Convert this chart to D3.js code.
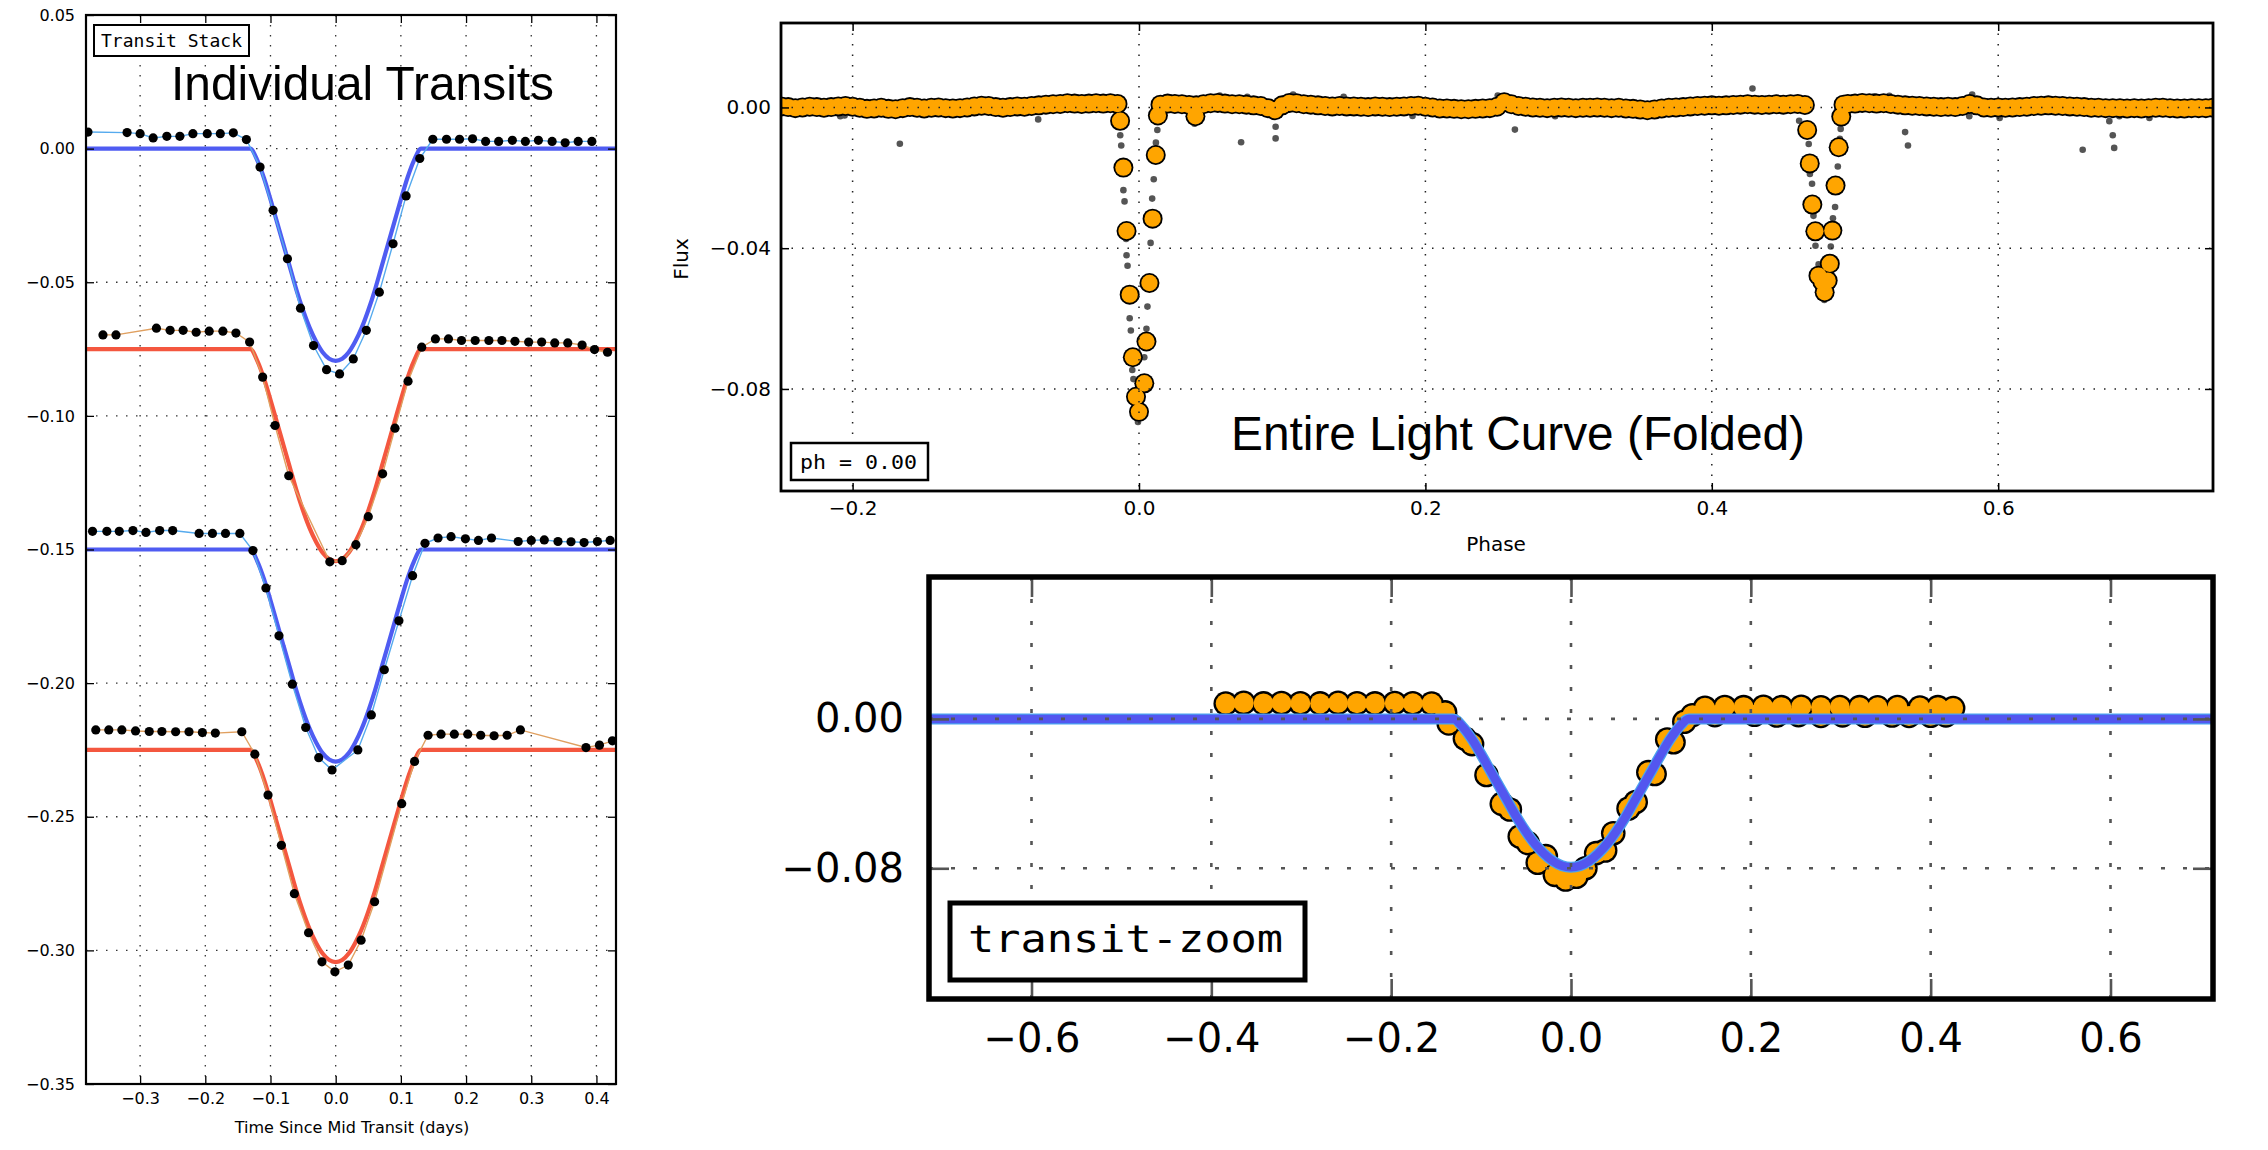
<!DOCTYPE html>
<html><head><meta charset="utf-8">
<script src="https://cdn.jsdelivr.net/npm/d3@7"></script>
<style>html,body{margin:0;padding:0;background:#fff;} svg{display:block;}</style>
</head><body>
<svg id="c" width="2268" height="1150"></svg>
<script>
// ---------------- DATA ----------------
// Panel 1: individual transits (time since mid transit [days], relative flux incl. stack offset)
const t1Time = [-0.380,-0.320,-0.300,-0.280,-0.259,-0.239,-0.219,-0.197,-0.177,-0.157,-0.137,-0.116,-0.096,-0.074,-0.054,-0.034,-0.014,0.006,0.027,0.047,0.067,0.088,0.108,0.129,0.149,0.170,0.190,0.210,0.230,0.250,0.271,0.291,0.311,0.332,0.352,0.372,0.393];
const t1Flux = [0.0062,0.0060,0.0056,0.0040,0.0046,0.0046,0.0056,0.0056,0.0056,0.0059,0.0034,-0.0069,-0.0231,-0.0412,-0.0597,-0.0737,-0.0827,-0.0843,-0.0787,-0.0680,-0.0537,-0.0356,-0.0177,-0.0037,0.0035,0.0035,0.0035,0.0037,0.0027,0.0027,0.0031,0.0027,0.0031,0.0027,0.0022,0.0027,0.0027];
const t2Time = [-0.357,-0.337,-0.275,-0.254,-0.234,-0.214,-0.194,-0.173,-0.153,-0.132,-0.112,-0.093,-0.072,-0.009,0.010,0.031,0.050,0.072,0.091,0.111,0.132,0.153,0.173,0.193,0.214,0.235,0.255,0.275,0.296,0.316,0.336,0.356,0.378,0.397,0.417];
const t2Flux = [-0.0697,-0.0697,-0.0672,-0.0680,-0.0680,-0.0687,-0.0683,-0.0683,-0.0690,-0.0724,-0.0855,-0.1036,-0.1224,-0.1546,-0.1542,-0.1482,-0.1377,-0.1217,-0.1046,-0.0870,-0.0743,-0.0712,-0.0712,-0.0718,-0.0718,-0.0718,-0.0718,-0.0721,-0.0724,-0.0724,-0.0727,-0.0727,-0.0735,-0.0752,-0.0762];
const t3Time = [-0.373,-0.351,-0.332,-0.311,-0.291,-0.270,-0.250,-0.2095,-0.189,-0.169,-0.147,-0.127,-0.107,-0.087,-0.0665,-0.046,-0.026,-0.0056,0.034,0.0547,0.0746,0.097,0.118,0.137,0.157,0.177,0.199,0.219,0.239,0.280,0.300,0.320,0.341,0.361,0.381,0.4015,0.421];
const t3Flux = [-0.1432,-0.1432,-0.1432,-0.1429,-0.1436,-0.1429,-0.1429,-0.1440,-0.1440,-0.1440,-0.1440,-0.1504,-0.1644,-0.1823,-0.2004,-0.2166,-0.2279,-0.2325,-0.2250,-0.2119,-0.1950,-0.1767,-0.1598,-0.1477,-0.1457,-0.1452,-0.1460,-0.1466,-0.1457,-0.1470,-0.1466,-0.1464,-0.1470,-0.1471,-0.1474,-0.1470,-0.1466];
const t4Time = [-0.368,-0.348,-0.328,-0.307,-0.286,-0.2666,-0.2455,-0.225,-0.2045,-0.1846,-0.144,-0.124,-0.1038,-0.0833,-0.0634,-0.0416,-0.0211,-0.0012,0.0193,0.039,0.0597,0.1013,0.121,0.1417,0.1616,0.182,0.2026,0.2225,0.243,0.263,0.2834,0.384,0.4046,0.4245];
const t4Flux = [-0.2175,-0.2175,-0.2175,-0.2179,-0.2181,-0.2181,-0.2182,-0.2182,-0.2185,-0.2187,-0.2182,-0.2266,-0.2419,-0.2607,-0.2788,-0.2934,-0.3043,-0.3080,-0.3055,-0.2962,-0.2818,-0.2451,-0.2293,-0.2195,-0.2191,-0.2191,-0.2191,-0.2195,-0.2197,-0.2195,-0.2175,-0.2241,-0.2232,-0.2216];
// Transit model (shared shape) and stack offsets of the four transits
const modelTime  = [-0.75,-0.131,-0.12,-0.11,-0.10,-0.09,-0.08,-0.07,-0.06,-0.05,-0.04,-0.03,-0.02,-0.01,0,0.01,0.02,0.03,0.04,0.05,0.06,0.07,0.08,0.09,0.10,0.11,0.12,0.131,0.75];
const modelDepth = [0,0,-0.0045,-0.011,-0.019,-0.0275,-0.036,-0.0445,-0.053,-0.0605,-0.067,-0.0722,-0.0762,-0.0786,-0.0794,-0.0786,-0.0762,-0.0722,-0.067,-0.0605,-0.053,-0.0445,-0.036,-0.0275,-0.019,-0.011,-0.0045,0,0];
const stackOffsets = [0,-0.075,-0.15,-0.225];
const p1XTicks = [-0.3,-0.2,-0.1,0.0,0.1,0.2,0.3,0.4];
const p1YTicks = [-0.35,-0.30,-0.25,-0.20,-0.15,-0.10,-0.05,0.00,0.05];

// Panel 2: folded light curve (phase, flux in units of 1e-3)
const bandPhase = [-0.250,-0.245,-0.240,-0.235,-0.230,-0.225,-0.220,-0.215,-0.210,-0.205,-0.200,-0.195,-0.190,-0.185,-0.180,-0.175,-0.170,-0.165,-0.160,-0.155,-0.150,-0.145,-0.140,-0.135,-0.130,-0.125,-0.120,-0.115,-0.110,-0.105,-0.100,-0.095,-0.090,-0.085,-0.080,-0.075,-0.070,-0.065,-0.060,-0.055,-0.050,-0.045,-0.040,-0.035,-0.030,-0.025,-0.020,-0.015,
0.015,0.020,0.025,0.030,0.035,0.040,0.045,0.050,0.055,0.060,0.065,0.070,0.075,0.080,0.085,0.090,0.095,0.100,0.105,0.110,0.115,0.120,0.125,0.130,0.135,0.140,0.145,0.150,0.155,0.160,0.165,0.170,0.175,0.180,0.185,0.190,0.195,0.200,0.205,0.210,0.215,0.220,0.225,0.230,0.235,0.240,0.245,0.250,0.255,0.260,0.265,0.270,0.275,0.280,0.285,0.290,0.295,0.300,0.305,0.310,0.315,0.320,0.325,0.330,0.335,0.340,0.345,0.350,0.355,0.360,0.365,0.370,0.375,0.380,0.385,0.390,0.395,0.400,0.405,0.410,0.415,0.420,0.425,0.430,0.435,0.440,0.445,0.450,0.455,0.460,0.465,
0.492,0.495,0.500,0.505,0.510,0.515,0.520,0.525,0.530,0.535,0.540,0.545,0.550,0.555,0.560,0.565,0.570,0.575,0.580,0.585,0.590,0.595,0.600,0.605,0.610,0.615,0.620,0.625,0.630,0.635,0.640,0.645,0.650,0.655,0.660,0.665,0.670,0.675,0.680,0.685,0.690,0.695,0.700,0.705,0.710,0.715,0.720,0.725,0.730,0.735,0.740,0.745,0.750];
const bandFluxMilli = [0.3,0.1,-0.2,0.0,0.2,0.1,-0.1,0.1,0.3,0.4,0.2,-0.1,-0.4,-0.3,-0.1,-0.4,-0.5,-0.2,0.1,-0.1,-0.3,-0.1,0.0,-0.2,-0.3,-0.2,0.0,0.3,0.5,0.4,0.1,-0.1,0.1,0.3,0.2,0.4,0.6,0.8,0.9,1.0,1.2,1.1,1.0,1.1,1.2,1.1,1.2,1.0,
0.8,1.1,1.0,0.9,0.7,0.6,0.9,1.2,1.3,1.1,0.9,0.9,0.8,0.6,0.4,-0.2,-0.8,0.6,1.3,1.2,0.9,0.8,0.6,0.4,0.3,0.4,0.3,0.3,0.2,0.1,0.3,0.2,0.1,0.2,0.3,0.4,0.5,0.2,0.0,-0.3,-0.3,-0.4,-0.5,-0.5,-0.4,-0.3,-0.2,0.2,1.5,0.9,0.4,0.2,0.0,-0.1,-0.2,-0.1,0.0,-0.1,-0.2,-0.1,-0.1,0.0,-0.1,-0.2,-0.1,-0.3,-0.4,-0.6,-0.8,-0.6,-0.3,-0.1,0.0,0.1,0.3,0.4,0.5,0.6,0.5,0.6,0.7,0.8,0.9,0.8,0.7,0.8,0.9,0.8,0.9,1.0,0.7,
0.8,1.0,1.1,1.3,1.2,1.1,1.2,1.0,0.8,0.6,0.5,0.4,0.3,0.2,0.1,0.2,0.1,0.4,1.0,0.6,0.0,-0.1,0.0,-0.1,0.0,0.1,0.2,0.4,0.5,0.6,0.5,0.4,0.3,0.2,0.1,-0.1,-0.1,-0.2,-0.2,-0.2,-0.3,-0.2,-0.3,-0.2,-0.1,-0.1,-0.2,-0.3,-0.3,-0.2,-0.2,-0.2,-0.1];
const eclPhase = [-0.0132,-0.0109,-0.0087,-0.0065,-0.0043,-0.0021,0.0,0.0037,0.0052,0.0073,0.0095,0.0117,0.0132,0.0394,
0.4666,0.4684,0.4702,0.4723,0.4745,0.4772,0.4788,0.4809,0.4824,0.4842,0.4864,0.4886,0.4904];
const eclFluxMilli = [-3.8,-17.1,-35.1,-53.2,-71.0,-82.2,-86.5,-78.4,-66.5,-49.9,-31.6,-13.5,-2.3,-2.5,
-6.4,-15.9,-27.6,-35.2,-47.8,-49.5,-52.5,-49.2,-44.4,-35.0,-22.2,-11.3,-2.6];
const rawPhase = [-0.2086,-0.2056,-0.167,-0.0704,0.0388,0.0713,0.0954,0.0954,0.2625,0.4284,0.535,0.537,0.659,0.6776,0.68,0.681,
0.0564,0.0756,0.1076,0.1429,0.2505,0.5135,0.524,0.5818,0.2906,0.5798,0.601,0.7056,0.6846,0.191,
-0.0131,-0.0124,-0.0109,-0.0101,-0.009,-0.0087,-0.008,-0.0065,-0.0057,-0.0047,-0.0039,-0.0021,-0.0007,0.0037,0.0052,0.0059,0.0081,0.0092,0.0103,0.0118,0.0128,
0.461,0.4677,0.4685,0.47,0.471,0.4724,0.4746,0.4786,0.481,0.4831,0.4846,0.4861,0.4868,0.488,0.4894,0.49];
const rawFluxMilli = [-2.5,-2.3,-10.3,-3.4,-4.6,-9.9,-5.5,-8.8,-6.3,5.4,-7.0,-10.8,-12.0,-3.9,-7.9,-11.5,
3.4,3.0,3.7,3.0,3.4,3.2,3.3,3.7,-2.5,-2.5,-3.0,-3.0,-2.5,-2.4,
-7.9,-10.8,-23.5,-26.7,-37.4,-42.0,-45.0,-59.9,-63.4,-74.6,-77.2,-84.8,-89.4,-71.0,-62.9,-56.6,-38.5,-25.9,-20.4,-10.0,-6.4,
-3.8,-10.4,-18.9,-21.7,-30.8,-39.3,-44.6,-54.7,-46.6,-39.5,-31.5,-28.3,-20.6,-16.8,-8.9,-6.1];
const p2XTicks = [-0.2,0.0,0.2,0.4,0.6];
const p2YTicks = [-0.08,-0.04,0.00];

// Panel 3: transit zoom (time, flux in units of 1e-3)
const zoomTime = [-0.384,-0.364,-0.342,-0.322,-0.301,-0.279,-0.259,-0.238,-0.218,-0.196,-0.176,-0.155,-0.140,
-0.136,-0.118,-0.110,-0.094,-0.077,-0.068,-0.057,-0.048,-0.037,-0.028,-0.018,-0.006,0.006,0.016,0.028,0.038,0.047,0.064,0.072,0.086,0.093,0.107,0.114,0.126,0.135,
0.149,0.171,0.192,0.214,0.234,0.256,0.278,0.299,0.321,0.341,0.363,0.388,0.408,0.425,
0.160,0.204,0.229,0.253,0.278,0.302,0.327,0.357,0.376,0.400,0.417];
const zoomFluxMilli = [8.2,8.6,8.3,8.5,8.4,8.3,8.6,8.4,8.3,8.5,8.4,8.2,3.5,
-2.4,-10.5,-13.5,-30.0,-45.5,-48.5,-63.0,-66.5,-77.0,-73.5,-83.5,-86.0,-84.5,-80.0,-71.9,-70.5,-61.2,-48.0,-44.5,-28.5,-29.5,-11.0,-12.5,-1.5,2.0,
6.0,6.4,6.3,6.5,6.3,6.5,6.2,6.4,6.3,6.2,6.4,6.1,6.3,5.8,
2.0,2.2,1.8,2.0,1.6,1.9,1.7,1.8,1.6,1.7,1.9];
const p3XTicks = [-0.6,-0.4,-0.2,0.0,0.2,0.4,0.6];
const p3YTicks = [-0.08,0.00];

// ---------------- DRAWING ----------------
const svg = d3.select('#c');
const defs = svg.append('defs');
const SANS = "'DejaVu Sans', 'Bitstream Vera Sans', sans-serif";
const MONO = "'DejaVu Sans Mono', 'Liberation Mono', monospace";
const NARROW = "'Liberation Sans Narrow', 'Liberation Sans', Arial, sans-serif";

function clipFor(id, b) {
  defs.append('clipPath').attr('id', id).append('rect')
    .attr('x', b.left).attr('y', b.top).attr('width', b.right - b.left).attr('height', b.bottom - b.top);
  return `url(#${id})`;
}

function drawGrid(g, xs, ys, b, xt, yt, st) {
  const gg = g.append('g');
  gg.selectAll('line.gv').data(xt).join('line').attr('class','gv')
    .attr('x1', d => xs(d)).attr('x2', d => xs(d)).attr('y1', b.top).attr('y2', b.bottom);
  gg.selectAll('line.gh').data(yt).join('line').attr('class','gh')
    .attr('x1', b.left).attr('x2', b.right).attr('y1', d => ys(d)).attr('y2', d => ys(d));
  gg.selectAll('line').attr('stroke', st.color).attr('stroke-width', st.width)
    .attr('stroke-dasharray', st.dash).attr('fill','none');
}

function drawAxes(g, xs, ys, b, xt, yt, o) {
  const fmtX = d3.format(o.xfmt), fmtY = d3.format(o.yfmt);
  const ax = [
    g.append('g').attr('transform', `translate(0,${b.bottom})`)
      .call(d3.axisBottom(xs).tickValues(xt).tickSize(-o.tick).tickPadding(o.xpad).tickFormat(fmtX)),
    g.append('g').attr('transform', `translate(0,${b.top})`)
      .call(d3.axisTop(xs).tickValues(xt).tickSize(-o.tick).tickFormat('')),
    g.append('g').attr('transform', `translate(${b.left},0)`)
      .call(d3.axisLeft(ys).tickValues(yt).tickSize(-o.tick).tickPadding(o.ypad).tickFormat(fmtY)),
    g.append('g').attr('transform', `translate(${b.right},0)`)
      .call(d3.axisRight(ys).tickValues(yt).tickSize(-o.tick).tickFormat(''))
  ];
  ax.forEach(a => {
    a.select('.domain').remove();
    a.selectAll('line').attr('stroke', o.tickColor).attr('stroke-width', o.tickWidth);
    a.attr('font-size', o.font).attr('font-family', SANS);
    a.selectAll('text').attr('fill', '#000');
  });
  g.append('rect').attr('x', b.left).attr('y', b.top)
    .attr('width', b.right - b.left).attr('height', b.bottom - b.top)
    .attr('fill', 'none').attr('stroke', '#000').attr('stroke-width', o.border);
}

// ---- Panel 1 ----
const P1 = {left: 86, right: 616, top: 15, bottom: 1084};
const xs1 = d3.scaleLinear().domain([-0.383, 0.43]).range([P1.left, P1.right]);
const ys1 = d3.scaleLinear().domain([-0.35, 0.05]).range([P1.bottom, P1.top]);
const g1 = svg.append('g');
drawGrid(g1, xs1, ys1, P1, p1XTicks, p1YTicks, {color:'#333', width:1.3, dash:'1.5,8.5'});
const c1 = g1.append('g').attr('clip-path', clipFor('clip1', P1));
const transits = [[t1Time,t1Flux],[t2Time,t2Flux],[t3Time,t3Flux],[t4Time,t4Flux]];
const modelCol = ['#4f5cf2','#f4573f','#4f5cf2','#f4573f'];
const thinCol = ['#55aaee','#e0a060','#55aaee','#e0a060'];
const lineD = d3.line().x(d => xs1(d[0])).y(d => ys1(d[1]));
const modelLine = d3.line().x(d => xs1(d[0])).y(d => ys1(d[1])).curve(d3.curveMonotoneX);
transits.forEach((tr, i) => {
  const pts = tr[0].map((t, j) => [t, tr[1][j]]);
  const mod = modelTime.map((t, j) => [t, modelDepth[j] + stackOffsets[i]]);
  c1.append('path').attr('d', modelLine(mod)).attr('fill','none').attr('stroke', modelCol[i]).attr('stroke-width', 4.2);
  c1.append('path').attr('d', lineD(pts)).attr('fill','none').attr('stroke', thinCol[i]).attr('stroke-width', 1.4);
  c1.selectAll(null).data(pts).join('circle').attr('cx', d => xs1(d[0])).attr('cy', d => ys1(d[1])).attr('r', 4.6).attr('fill', '#000');
});
drawAxes(g1, xs1, ys1, P1, p1XTicks, p1YTicks, {xfmt:'.1f', yfmt:'.2f', tick:8, xpad:9, ypad:11, font:16, tickColor:'#000', tickWidth:1.3, border:2.2});
g1.append('text').attr('x', (P1.left + P1.right) / 2 + 1).attr('y', 1133).attr('text-anchor','middle')
  .attr('font-family', SANS).attr('font-size', 16).text('Time Since Mid Transit (days)');
g1.append('rect').attr('x', 94).attr('y', 25).attr('width', 155).attr('height', 31).attr('fill','#fff').attr('stroke','#000').attr('stroke-width', 2);
g1.append('text').attr('x', 101).attr('y', 47).attr('font-family', MONO).attr('font-size', 17)
  .attr('textLength', 141).attr('lengthAdjust','spacingAndGlyphs').text('Transit Stack');
g1.append('text').attr('x', 171).attr('y', 100).attr('font-family', NARROW).attr('font-size', 49)
  .attr('textLength', 383).attr('lengthAdjust','spacingAndGlyphs').text('Individual Transits');

// ---- Panel 2 ----
const P2 = {left: 781, right: 2213, top: 23, bottom: 491};
const xs2 = d3.scaleLinear().domain([-0.25, 0.75]).range([P2.left, P2.right]);
const ys2 = d3.scaleLinear().domain([-0.109, 0.024]).range([P2.bottom, P2.top]);
const g2 = svg.append('g');
const c2 = g2.append('g').attr('clip-path', clipFor('clip2', P2));
const rawPts = rawPhase.map((p, j) => [p, rawFluxMilli[j] / 1000]);
const binPts = bandPhase.map((p, j) => [p, bandFluxMilli[j] / 1000])
  .concat(eclPhase.map((p, j) => [p, eclFluxMilli[j] / 1000]));
c2.selectAll('circle.raw').data(rawPts).join('circle').attr('class','raw')
  .attr('cx', d => xs2(d[0])).attr('cy', d => ys2(d[1])).attr('r', 3.3).attr('fill', '#555');
c2.selectAll('circle.bo').data(binPts).join('circle').attr('class','bo')
  .attr('cx', d => xs2(d[0])).attr('cy', d => ys2(d[1])).attr('r', 10).attr('fill', '#000');
c2.selectAll('circle.bi').data(binPts).join('circle').attr('class','bi')
  .attr('cx', d => xs2(d[0])).attr('cy', d => ys2(d[1])).attr('r', 8.2).attr('fill', '#ffa500');
drawGrid(g2, xs2, ys2, P2, p2XTicks, p2YTicks, {color:'#222', width:1.5, dash:'1.5,9'});
drawAxes(g2, xs2, ys2, P2, p2XTicks, p2YTicks, {xfmt:'.1f', yfmt:'.2f', tick:8, xpad:10, ypad:10, font:20, tickColor:'#000', tickWidth:1.5, border:2.8});
g2.append('text').attr('x', 1496).attr('y', 551).attr('text-anchor','middle')
  .attr('font-family', SANS).attr('font-size', 20).text('Phase');
g2.append('text').attr('transform', 'translate(688,259) rotate(-90)').attr('text-anchor','middle')
  .attr('font-family', SANS).attr('font-size', 20).text('Flux');
g2.append('rect').attr('x', 791).attr('y', 443).attr('width', 137).attr('height', 37).attr('fill','#fff').attr('stroke','#000').attr('stroke-width', 2.5);
g2.append('text').attr('x', 800).attr('y', 469).attr('font-family', MONO).attr('font-size', 20)
  .attr('textLength', 117).attr('lengthAdjust','spacingAndGlyphs').text('ph = 0.00');
g2.append('text').attr('x', 1231).attr('y', 450).attr('font-family', NARROW).attr('font-size', 48)
  .attr('textLength', 574).attr('lengthAdjust','spacingAndGlyphs').text('Entire Light Curve (Folded)');

// ---- Panel 3 ----
const P3 = {left: 929, right: 2213, top: 577, bottom: 999};
const xs3 = d3.scaleLinear().domain([-0.714, 0.714]).range([P3.left, P3.right]);
const ys3 = d3.scaleLinear().domain([-0.15, 0.076]).range([P3.bottom, P3.top]);
const g3 = svg.append('g');
const c3 = g3.append('g').attr('clip-path', clipFor('clip3', P3));
const zPts = zoomTime.map((t, j) => [t, zoomFluxMilli[j] / 1000]);
c3.selectAll('circle.zo').data(zPts).join('circle').attr('class','zo')
  .attr('cx', d => xs3(d[0])).attr('cy', d => ys3(d[1])).attr('r', 12.3).attr('fill', '#000');
c3.selectAll('circle.zi').data(zPts).join('circle').attr('class','zi')
  .attr('cx', d => xs3(d[0])).attr('cy', d => ys3(d[1])).attr('r', 10).attr('fill', '#ffa500');
const modelLine3 = d3.line().x(d => xs3(d[0])).y(d => ys3(d[1])).curve(d3.curveMonotoneX);
const mod3 = modelTime.map((t, j) => [t, modelDepth[j]]);
c3.append('path').attr('d', modelLine3(mod3)).attr('fill','none').attr('stroke', '#4aa3f0').attr('stroke-width', 11);
c3.append('path').attr('d', modelLine3(mod3)).attr('fill','none').attr('stroke', '#5356ef').attr('stroke-width', 8.5);
drawGrid(g3, xs3, ys3, P3, p3XTicks, p3YTicks, {color:'#555', width:2.6, dash:'4,18'});
drawAxes(g3, xs3, ys3, P3, p3XTicks, p3YTicks, {xfmt:'.1f', yfmt:'.2f', tick:20, xpad:25, ypad:25, font:40, tickColor:'#555', tickWidth:2.6, border:5.5});
g3.append('rect').attr('x', 950).attr('y', 903).attr('width', 355).attr('height', 77).attr('fill','#fff').attr('stroke','#000').attr('stroke-width', 5);
g3.append('text').attr('x', 968).attr('y', 952).attr('font-family', MONO).attr('font-size', 38)
  .attr('textLength', 315).attr('lengthAdjust','spacingAndGlyphs').text('transit-zoom');
</script>
</body></html>
